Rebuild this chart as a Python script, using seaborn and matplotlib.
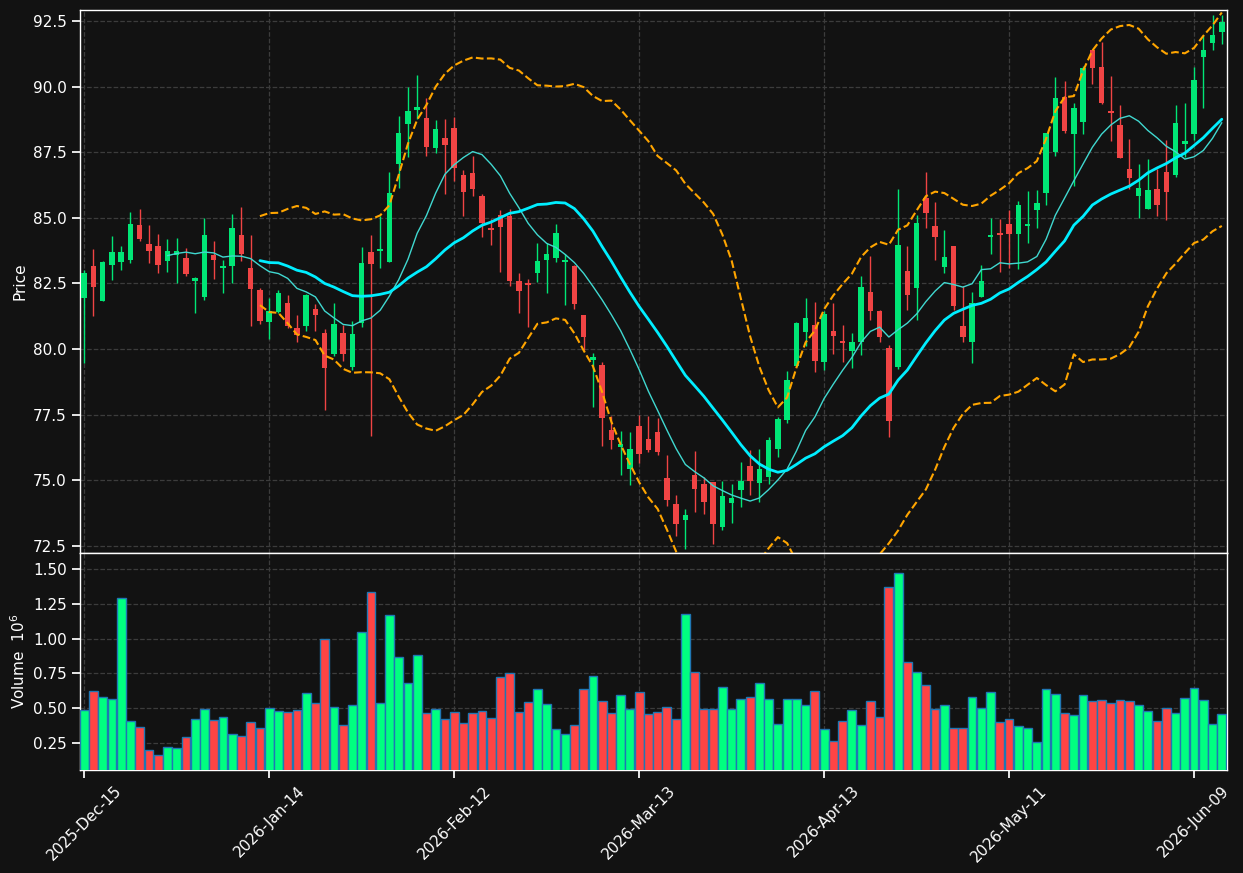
import matplotlib
matplotlib.use('Agg')
import matplotlib.pyplot as plt
import numpy as np
import pandas as pd
import seaborn as sns

# daily OHLC (trading days from 2025-12-15), volume in millions
opens = [81.93, 83.18, 81.82, 83.19, 83.31, 83.38, 84.71, 84.02, 83.94, 83.35,
         83.58, 83.45, 82.58, 81.97, 83.60, 83.10, 83.16, 84.33, 83.07, 82.26,
         81.02, 81.40, 81.76, 80.80, 80.87, 81.54, 80.61, 79.80, 80.62, 79.30,
         80.99, 83.71, 83.73, 83.31, 87.05, 88.57, 89.11, 88.79, 87.66, 88.03,
         88.41, 86.62, 86.72, 85.85, 84.63, 85.09, 85.05, 82.60, 82.49, 82.89,
         83.38, 83.46, 83.32, 83.18, 81.31, 79.59, 79.40, 76.92, 76.28, 75.42,
         77.07, 76.58, 76.84, 75.09, 74.08, 73.50, 75.19, 74.87, 74.94, 73.22,
         74.14, 74.64, 75.54, 74.90, 75.13, 76.18, 77.30, 79.36, 80.64, 80.93,
         79.49, 80.70, 80.24, 79.91, 80.25, 82.19, 81.46, 80.04, 79.30, 82.98,
         82.32, 85.74, 84.67, 83.13, 83.94, 80.89, 80.25, 81.97, 84.26, 84.38,
         84.78, 84.39, 84.68, 85.29, 85.93, 87.51, 89.62, 88.21, 88.66, 91.38,
         90.73, 89.08, 88.55, 86.86, 85.84, 85.34, 86.10, 86.75, 86.65, 87.83,
         88.18, 91.12, 91.66, 92.08]
highs = [83.00, 83.82, 83.37, 84.30, 83.93, 85.23, 85.34, 84.73, 84.39, 84.20,
         84.24, 83.85, 82.75, 85.00, 84.10, 83.41, 85.15, 85.42, 84.35, 82.33,
         81.95, 82.24, 82.05, 81.31, 82.10, 81.72, 80.78, 81.76, 80.93, 81.06,
         83.88, 84.36, 85.06, 86.74, 88.88, 90.00, 90.43, 89.57, 88.73, 88.78,
         88.85, 86.82, 87.35, 85.90, 84.96, 85.29, 85.32, 82.90, 82.68, 84.05,
         84.05, 84.77, 83.64, 83.22, 81.31, 79.85, 79.50, 77.43, 76.88, 76.83,
         77.47, 77.46, 77.36, 75.98, 74.43, 73.92, 76.11, 75.13, 74.94, 74.98,
         74.87, 75.68, 76.15, 76.21, 76.63, 77.42, 79.15, 81.03, 81.95, 81.78,
         81.44, 81.76, 80.93, 80.61, 82.80, 83.54, 81.50, 80.17, 86.11, 83.92,
         85.09, 86.76, 85.60, 84.53, 83.94, 82.39, 82.18, 83.19, 85.00, 84.96,
         85.29, 85.64, 86.02, 86.06, 88.22, 90.38, 90.22, 89.36, 90.77, 91.38,
         91.68, 90.41, 89.30, 88.02, 87.04, 87.23, 86.87, 87.96, 89.30, 89.36,
         90.74, 91.98, 92.74, 92.74]
lows = [79.47, 81.25, 81.82, 82.62, 83.02, 83.28, 84.11, 83.28, 82.90, 82.94,
        82.52, 82.77, 81.37, 81.86, 82.67, 82.14, 82.52, 83.35, 80.87, 80.97,
        80.38, 81.37, 80.82, 80.25, 80.67, 80.67, 77.68, 79.72, 79.53, 79.21,
        80.84, 76.69, 83.09, 83.31, 86.14, 87.33, 88.75, 87.35, 87.46, 85.89,
        86.40, 85.06, 85.83, 84.27, 83.97, 82.95, 82.42, 81.37, 80.84, 82.56,
        82.14, 83.32, 81.69, 81.53, 79.97, 77.79, 76.32, 76.18, 75.20, 74.82,
        75.67, 76.09, 75.96, 74.01, 72.86, 72.39, 73.79, 73.73, 72.58, 73.09,
        73.37, 73.98, 74.43, 74.17, 74.87, 75.87, 77.17, 79.34, 80.10, 79.12,
        79.19, 79.81, 79.50, 79.27, 79.76, 81.09, 80.25, 76.64, 79.25, 81.50,
        81.09, 84.62, 83.41, 82.90, 81.48, 80.27, 79.47, 81.97, 83.63, 82.94,
        83.09, 83.05, 84.05, 84.62, 85.48, 87.35, 88.22, 86.21, 88.18, 90.10,
        89.34, 87.91, 87.26, 86.11, 85.00, 85.34, 85.05, 84.90, 86.56, 87.32,
        87.96, 89.20, 91.40, 91.63]
closes = [82.90, 82.35, 83.33, 83.68, 83.71, 84.78, 84.19, 83.73, 83.19, 83.72,
          83.74, 82.85, 82.72, 84.33, 83.38, 83.18, 84.63, 83.61, 82.28, 81.06,
          81.44, 82.14, 80.87, 80.52, 82.04, 81.28, 79.26, 80.97, 79.80, 80.58,
          83.26, 83.23, 83.83, 85.95, 88.22, 89.06, 89.21, 87.70, 88.37, 87.76,
          86.90, 85.98, 86.09, 84.81, 84.52, 84.64, 82.58, 82.20, 82.43, 83.37,
          83.64, 84.44, 83.41, 81.70, 80.45, 79.69, 77.39, 76.54, 76.37, 76.20,
          76.00, 76.16, 76.09, 74.26, 73.34, 73.66, 74.67, 74.17, 73.34, 74.39,
          74.31, 74.96, 74.98, 75.42, 76.53, 77.34, 78.83, 81.00, 81.20, 79.53,
          81.35, 80.48, 80.22, 80.28, 82.38, 81.44, 80.46, 77.24, 83.98, 82.05,
          84.82, 85.18, 84.26, 83.51, 81.65, 80.44, 81.76, 82.61, 84.29, 84.35,
          84.39, 85.47, 84.75, 85.55, 88.22, 89.58, 88.31, 89.20, 90.70, 90.70,
          89.39, 88.98, 87.28, 86.53, 86.14, 86.06, 85.50, 85.98, 88.62, 87.90,
          90.27, 91.38, 91.95, 92.45]
volumes = [0.488, 0.625, 0.582, 0.567, 1.288, 0.409, 0.365, 0.199, 0.163, 0.221,
           0.214, 0.293, 0.423, 0.495, 0.416, 0.437, 0.315, 0.303, 0.401, 0.358,
           0.502, 0.481, 0.474, 0.488, 0.611, 0.538, 1.000, 0.510, 0.380, 0.524,
           1.050, 1.332, 0.538, 1.166, 0.870, 0.683, 0.885, 0.466, 0.495, 0.423,
           0.474, 0.394, 0.466, 0.481, 0.430, 0.726, 0.755, 0.474, 0.546, 0.639,
           0.531, 0.351, 0.315, 0.380, 0.639, 0.733, 0.553, 0.466, 0.596, 0.495,
           0.618, 0.459, 0.474, 0.510, 0.423, 1.173, 0.762, 0.495, 0.495, 0.654,
           0.495, 0.567, 0.582, 0.683, 0.567, 0.387, 0.567, 0.567, 0.524, 0.625,
           0.351, 0.264, 0.409, 0.488, 0.380, 0.553, 0.437, 1.368, 1.469, 0.834,
           0.762, 0.668, 0.495, 0.524, 0.358, 0.358, 0.582, 0.502, 0.618, 0.401,
           0.423, 0.373, 0.358, 0.257, 0.639, 0.603, 0.466, 0.452, 0.596, 0.553,
           0.560, 0.538, 0.560, 0.553, 0.524, 0.481, 0.409, 0.502, 0.466, 0.575,
           0.647, 0.560, 0.387, 0.459]
tick_labels = ['2025-Dec-15', '2026-Jan-14', '2026-Feb-12', '2026-Mar-13',
               '2026-Apr-13', '2026-May-11', '2026-Jun-09']

df = pd.DataFrame({'open': opens, 'high': highs, 'low': lows,
                   'close': closes, 'volume': volumes})
df['idx'] = np.arange(len(df))
df['sma10'] = df['close'].rolling(10).mean()
df['sma20'] = df['close'].rolling(20).mean()
std20 = df['close'].rolling(20).std(ddof=0)
df['upper'] = df['sma20'] + 2 * std20
df['lower'] = df['sma20'] - 2 * std20

bg = '#121212'
sns.set_theme(style='dark', rc={
    'axes.facecolor': bg, 'figure.facecolor': bg, 'axes.edgecolor': 'white',
    'text.color': 'white', 'axes.labelcolor': 'white',
    'xtick.color': 'white', 'ytick.color': 'white',
    'xtick.bottom': True, 'ytick.left': True,
    'font.size': 11, 'axes.labelsize': 11,
    'xtick.labelsize': 11, 'ytick.labelsize': 11,
})
plt.rcParams['font.family'] = ['DejaVu Sans']

fig = plt.figure(figsize=(12.43, 8.73), dpi=100)
ax = fig.add_axes([0.0644, 0.3666, 0.9228, 0.622])
axv = fig.add_axes([0.0644, 0.118, 0.9228, 0.2486], sharex=ax)

up = df['close'] >= df['open']
candle_colors = np.where(up, '#00e676', '#f04444')
vol_colors = np.where(up, '#00ff80', '#ff4444')

# candles
ax.vlines(df['idx'], df['low'], df['high'], colors=candle_colors, lw=1, zorder=2)
body = np.maximum((df['close'] - df['open']).abs(), 0.08)
bottom = np.minimum(df['open'], df['close'])
ax.bar(df['idx'], body, bottom=bottom, width=0.6, color=candle_colors,
       edgecolor=candle_colors, lw=0, zorder=3)

# moving averages and bands
sns.lineplot(data=df, x='idx', y='sma10', ax=ax, color='#40d8d0', lw=1, zorder=4)
sns.lineplot(data=df, x='idx', y='sma20', ax=ax, color='#00eeff', lw=2, zorder=4)
sns.lineplot(data=df, x='idx', y='upper', ax=ax, color='orange', lw=1.5, ls='--', zorder=4)
sns.lineplot(data=df, x='idx', y='lower', ax=ax, color='orange', lw=1.5, ls='--', zorder=4)

# volume
axv.bar(df['idx'], df['volume'], width=0.95, color=vol_colors,
        edgecolor='#1f77b4', lw=1, zorder=3)

for a in (ax, axv):
    a.grid(True, ls='--', color='#3c3c3c', lw=0.9)
    for s in a.spines.values():
        s.set_color('white')
        s.set_linewidth(1)

ax.set_xlim(-0.45, len(df) - 0.43)
ax.set_ylim(72.23, 92.92)
ax.set_yticks(np.arange(72.5, 93, 2.5))
ax.set_yticklabels([f'{v:.1f}' for v in np.arange(72.5, 93, 2.5)])
ax.set_ylabel('Price')
ax.set_xlabel('')
ax.tick_params(axis='x', labelbottom=False)

axv.set_ylim(0.056, 1.615)
vt = np.arange(0.25, 1.51, 0.25)
axv.set_yticks(vt)
axv.set_yticklabels([f'{v:.2f}' for v in vt])
axv.set_ylabel('Volume  $10^6$')
axv.set_xticks(range(0, len(df), 20))
axv.set_xticklabels(tick_labels, rotation=45)
axv.set_xlabel('')

fig.savefig('out.png', dpi=100, facecolor=bg)
